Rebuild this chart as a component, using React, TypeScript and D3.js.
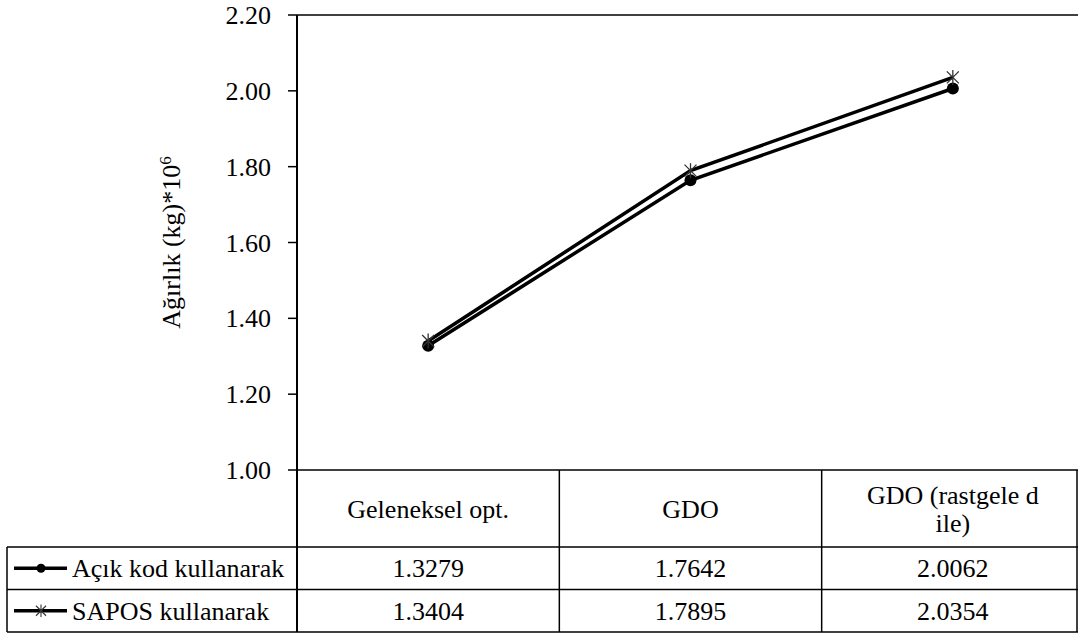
import React from "react";
import * as d3 from "d3";

const categories = ["Geleneksel opt.", "GDO", "GDO (rastgele d ile)"];
const categoryLines = [["Geleneksel opt."], ["GDO"], ["GDO (rastgele d", "ile)"]];
const seriesNames = ["Açık kod kullanarak", "SAPOS kullanarak"];
const acikKod = [1.3279, 1.7642, 2.0062];
const sapos = [1.3404, 1.7895, 2.0354];
const yTicks = [1.0, 1.2, 1.4, 1.6, 1.8, 2.0, 2.2];

const W = 1078;
const H = 635;
const left = 297;
const right = 1084;
const tableRight = 1077;
const top = 15;
const bottom = 470;
const tableLeft = 7;
const headerBottom = 547;
const rowH = 42.5;
const fs = 26;

function StarMarker({ x, y, r, w }: { x: number; y: number; r: number; w: number }) {
  const d = `M${x - r},${y - r}L${x + r},${y + r}M${x - r},${y + r}L${x + r},${y - r}M${x},${y - r * 1.25}L${x},${y + r * 1.25}`;
  return <path d={d} stroke="#333" strokeWidth={w} fill="none" />;
}

function Label(props: any) {
  const { children, ...rest } = props;
  return (
    <text fontFamily="Times New Roman" fontSize={fs} style={{ fontFamily: '"Times New Roman"' }} {...rest}>
      {children}
    </text>
  );
}

export default function App() {
  const x = d3.scaleBand<string>().domain(categories).range([left, right]);
  const y = d3.scaleLinear().domain([1.0, 2.2]).range([bottom, top]);
  const cx = (c: string) => (x(c) as number) + x.bandwidth() / 2;
  const line = d3
    .line<number>()
    .x((_, i) => cx(categories[i]))
    .y((v) => y(v));

  const series = [acikKod, sapos];
  const rowTops = [headerBottom, headerBottom + rowH];
  const tableBottom = headerBottom + rowH * 2;

  return (
    <div style={{ position: "absolute", left: 0, top: 0, fontFamily: '"Times New Roman"' }}>
      <svg width={W} height={H} style={{ display: "block" }}>
        <rect width={W} height={H} fill="#fff" />
        {/* y axis ticks and labels */}
        {yTicks.map((t) => (
          <g key={t}>
            <line x1={left - 9} x2={left} y1={y(t)} y2={y(t)} stroke="#000" strokeWidth={1.5} />
            <Label x={271} y={y(t)} dy="0.35em" textAnchor="end">
              {t.toFixed(2)}
            </Label>
          </g>
        ))}
        {/* plot frame */}
        <line x1={left} x2={right} y1={top} y2={top} stroke="#000" strokeWidth={1.5} />
        <line x1={left} x2={left} y1={top} y2={tableBottom} stroke="#000" strokeWidth={2} />

        {/* y axis title */}
        <Label transform={`translate(180,${(top + bottom) / 2}) rotate(-90)`} textAnchor="middle">
          Ağırlık (kg)*10<tspan dy="-9" fontSize={17}>6</tspan>
        </Label>

        {/* series lines */}
        {series.map((s, i) => (
          <path key={i} d={line(s) || ""} fill="none" stroke="#000" strokeWidth={3.5} />
        ))}
        {acikKod.map((v, i) => (
          <circle key={"c" + i} cx={cx(categories[i])} cy={y(v)} r={6} fill="#000" />
        ))}
        {sapos.map((v, i) => (
          <StarMarker key={"s" + i} x={cx(categories[i])} y={y(v)} r={6} w={1.3} />
        ))}

        {/* data table */}
        <line x1={left} x2={right} y1={bottom} y2={bottom} stroke="#000" strokeWidth={1.5} />
        {categories.map((c, i) =>
          i > 0 ? (
            <line
              key={"v" + i}
              x1={x(c) as number}
              x2={x(c) as number}
              y1={bottom}
              y2={tableBottom}
              stroke="#000"
              strokeWidth={1.5}
            />
          ) : null
        )}
        <line x1={tableRight} x2={tableRight} y1={bottom} y2={tableBottom} stroke="#000" strokeWidth={1.5} />
        <line x1={tableLeft} x2={right} y1={headerBottom} y2={headerBottom} stroke="#000" strokeWidth={1.5} />
        <line x1={tableLeft} x2={right} y1={headerBottom + rowH} y2={headerBottom + rowH} stroke="#000" strokeWidth={1.5} />
        <line x1={tableLeft} x2={right} y1={tableBottom} y2={tableBottom} stroke="#000" strokeWidth={1.5} />
        <line x1={tableLeft} x2={tableLeft} y1={headerBottom} y2={tableBottom} stroke="#000" strokeWidth={1.5} />

        {categoryLines.map((lines, i) => (
          <Label
            key={"h" + i}
            y={(bottom + headerBottom) / 2 - ((lines.length - 1) * 28) / 2}
            textAnchor="middle"
          >
            {lines.map((l, j) => (
              <tspan key={j} x={cx(categories[i])} dy={j === 0 ? "0.35em" : 28}>
                {l}
              </tspan>
            ))}
          </Label>
        ))}

        {series.map((s, r) => {
          const cy = rowTops[r] + rowH / 2;
          return (
            <g key={"r" + r}>
              <line x1={14} x2={67} y1={cy} y2={cy} stroke="#000" strokeWidth={3.5} />
              {r === 0 ? (
                <circle cx={41} cy={cy} r={4.5} fill="#000" />
              ) : (
                <StarMarker x={41} y={cy} r={5} w={1.1} />
              )}
              <Label x={72} y={cy} dy="0.35em">
                {seriesNames[r]}
              </Label>
              {s.map((v, i) => (
                <Label key={i} x={cx(categories[i])} y={cy} dy="0.35em" textAnchor="middle">
                  {v.toFixed(4)}
                </Label>
              ))}
            </g>
          );
        })}
      </svg>
    </div>
  );
}
